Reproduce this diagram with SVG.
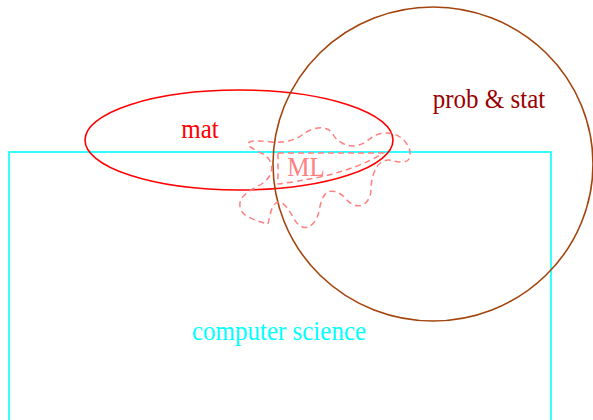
<svg xmlns="http://www.w3.org/2000/svg" width="593" height="420" viewBox="0 0 593 420">
<style>
text { font-family: "Liberation Serif", "Times New Roman", serif; font-size: 25px; text-anchor: middle; }
.cs { fill: none; stroke: #00ffff; stroke-width: 1.6; }
.mat { fill: none; stroke: #ff0000; stroke-width: 1.6; }
.ps { fill: none; stroke: #a3440c; stroke-width: 1.6; }
.ml { fill: none; stroke: #ff8080; stroke-width: 1.5; stroke-dasharray: 6 4; }
</style>
<rect x="0" y="0" width="593" height="420" fill="#ffffff"/>
<g id="computer-science">
  <rect class="cs" x="9" y="152" width="542" height="300"/>
  <text transform="translate(279,340) scale(1,1.1)" fill="#00ffff">computer science</text>
</g>
<g id="mat">
  <ellipse class="mat" cx="239" cy="140" rx="154" ry="50"/>
  <text transform="translate(200,138) scale(1,1.1)" fill="#ff0000">mat</text>
</g>
<g id="prob-stat">
  <ellipse class="ps" cx="433" cy="164" rx="160" ry="157"/>
  <text transform="translate(489,108) scale(1,1.1)" fill="#990000">prob &amp; stat</text>
</g>
<g id="ML">
  <path class="ml" d="M248.5,143 Q250,141 256.5,141 Q263,141 271.5,142 Q280,143 288.5,141 Q297,139 302,135 Q307,131 313.5,129 Q320,127 325.5,128.5 Q331,130 333.5,135 Q336,140 343,143.5 Q350,147 357,145.5 Q364,144 369,139.5 Q374,135 381,133.5 Q388,132 395,134.5 Q402,137 406.5,143.5 Q411,150 410,156 Q409,162 403,162 Q397,162 391.5,160.5 Q386,159 381,162.5 Q376,166 373.5,174 Q371,182 371,189.5 Q371,197 366.5,202 Q362,207 356,205.5 Q350,204 345.5,198.5 Q341,193 334.5,191.5 Q328,190 324.5,195 Q321,200 319.5,209 Q318,218 313,223.5 Q308,229 302.5,227 Q297,225 293.5,218 Q290,211 285,205.5 Q280,200 276,203 Q272,206 270,215 L268,224 L261,222 Q254,220 247.5,216.5 Q241,213 240,206.5 Q239,200 244.5,195 Q250,190 258,186 Q266,182 269.5,176 Q273,170 271,163.5 Q269,157 262,153.5 Q255,150 251,147.5 Q247,145 248.5,143 Z"/>
  <path class="ml" d="M278,153 L383,153 Q360,168 320,177 Q295,182 278,184 Z"/>
  <text transform="translate(306,176) scale(1,1.1)" fill="#ff8080">ML</text>
</g>
<g id="connectors"/>
</svg>
